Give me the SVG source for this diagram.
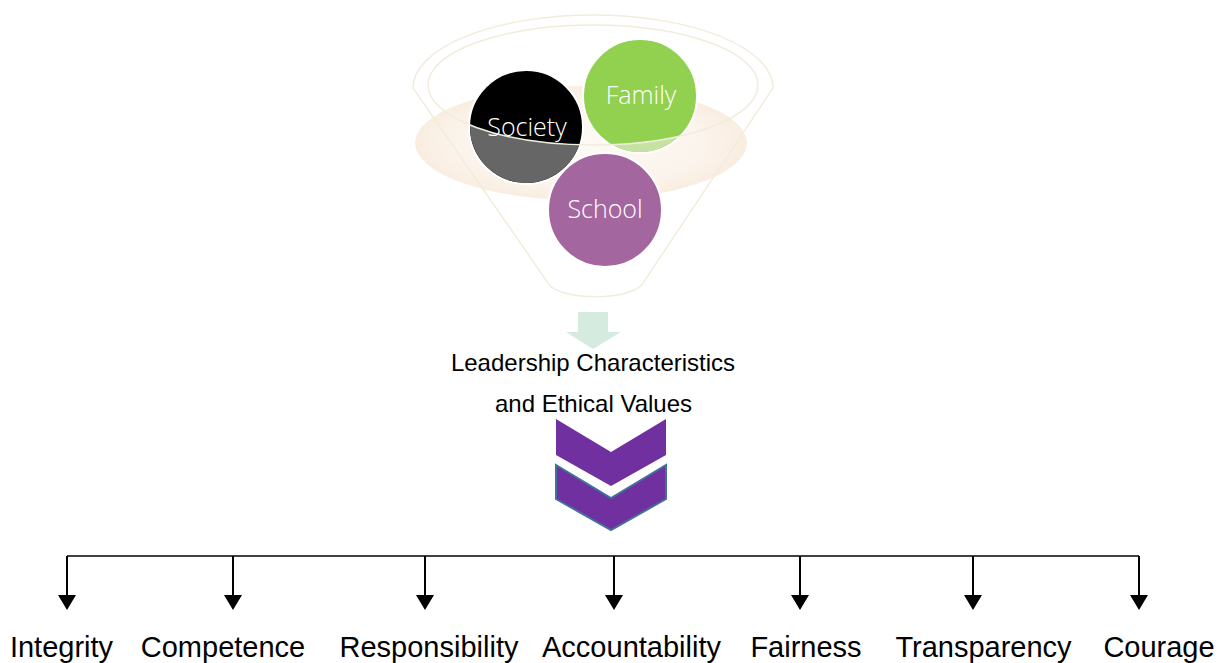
<svg xmlns="http://www.w3.org/2000/svg" width="1227" height="663" viewBox="0 0 1227 663">
  <style>
    .funnel-line { fill: none; stroke: #f2ecdd; stroke-width: 1.5; }
    .bubble { stroke: #ffffff; stroke-width: 2; }
    .bubble-label { font-family: "Open Sans", "Noto Sans", "Liberation Sans", sans-serif; font-weight: 300; font-size: 25px; fill: #ffffff; text-anchor: middle; }
    .caption { font-family: "Liberation Sans", Arial, sans-serif; font-size: 24px; fill: #000000; text-anchor: middle; }
    .value { font-family: "Liberation Sans", Arial, sans-serif; font-size: 29px; fill: #000000; text-anchor: middle; }
    .chevron { fill: #7030a0; }
    .bus { fill: none; stroke: #000000; stroke-width: 1.3; }
    .drop { fill: none; stroke: #000000; stroke-width: 2; marker-end: url(#head); }
  </style>
  <defs>
    <radialGradient id="liquid" cx="0.5" cy="0.5" r="0.5">
      <stop offset="0" stop-color="#fdf9f4"/>
      <stop offset="0.75" stop-color="#fbf4ec"/>
      <stop offset="1" stop-color="#f9ede0"/>
    </radialGradient>
    <!-- region below the lower arc of the funnel rim -->
    <clipPath id="belowRim">
      <path d="M380,85 H428 A165,60 0 0,0 758,85 H820 V320 H380 Z"/>
    </clipPath>
    <marker id="head" markerUnits="userSpaceOnUse" viewBox="0 0 15 18" markerWidth="15" markerHeight="18" refX="5" refY="9" orient="auto">
      <path d="M0,0 L15,9 L0,18 Z" fill="#000000"/>
    </marker>
  </defs>

  <!-- funnel body -->
  <g id="funnel">
    <ellipse cx="581" cy="143" rx="166" ry="57" fill="url(#liquid)"/>
    <path class="funnel-line" d="M413,88 A180,73 0 0,1 773,88 L643,283 A48,16 0 0,1 548,283 Z"/>
  </g>

  <g id="node-society">
    <circle class="bubble" cx="526" cy="127" r="57" fill="#000000"/>
    <circle cx="526" cy="127" r="56" fill="#666666" clip-path="url(#belowRim)"/>
    <text class="bubble-label" x="527" y="136">Society</text>
  </g>

  <g id="node-family">
    <circle class="bubble" cx="640" cy="96" r="57" fill="#92d050"/>
    <circle cx="640" cy="96" r="56" fill="#c5e2a2" clip-path="url(#belowRim)"/>
    <text class="bubble-label" x="641" y="104">Family</text>
  </g>

  <g id="node-school">
    <circle class="bubble" cx="605" cy="210" r="57" fill="#a4669f"/>
    <text class="bubble-label" x="605" y="218">School</text>
  </g>

  <!-- rim of the funnel drawn over the bubbles -->
  <ellipse class="funnel-line" cx="593" cy="85" rx="165" ry="60"/>

  <g id="node-output-arrow">
    <path d="M578,312 H608 V332 H621 L593,349 L566,332 H578 Z" fill="#d5ebdf"/>
  </g>

  <g id="node-heading">
    <text class="caption" x="593" y="371">Leadership Characteristics</text>
    <text class="caption" x="593.5" y="412">and Ethical Values</text>
  </g>

  <g id="node-chevrons">
    <path class="chevron" d="M556,419 L611,452 L666,419 V455 L611,486 L556,455 Z"/>
    <path class="chevron" d="M556,465 L611,498 L666,465 V499 L611,530 L556,499 Z" stroke="#41719c" stroke-width="2" stroke-linejoin="miter"/>
  </g>

  <g id="connectors">
    <path class="bus" d="M67,556 H1139"/>
    <line class="drop" x1="67" y1="556" x2="67" y2="600"/>
    <line class="drop" x1="233" y1="556" x2="233" y2="600"/>
    <line class="drop" x1="425" y1="556" x2="425" y2="600"/>
    <line class="drop" x1="614" y1="556" x2="614" y2="600"/>
    <line class="drop" x1="800" y1="556" x2="800" y2="600"/>
    <line class="drop" x1="973" y1="556" x2="973" y2="600"/>
    <line class="drop" x1="1139" y1="556" x2="1139" y2="600"/>
  </g>

  <g id="node-integrity"><text class="value" x="61.5" y="657">Integrity</text></g>
  <g id="node-competence"><text class="value" x="223" y="657">Competence</text></g>
  <g id="node-responsibility"><text class="value" x="429" y="657">Responsibility</text></g>
  <g id="node-accountability"><text class="value" x="631.5" y="657">Accountability</text></g>
  <g id="node-fairness"><text class="value" x="806" y="657">Fairness</text></g>
  <g id="node-transparency"><text class="value" x="983.5" y="657">Transparency</text></g>
  <g id="node-courage"><text class="value" x="1159" y="657">Courage</text></g>
</svg>
